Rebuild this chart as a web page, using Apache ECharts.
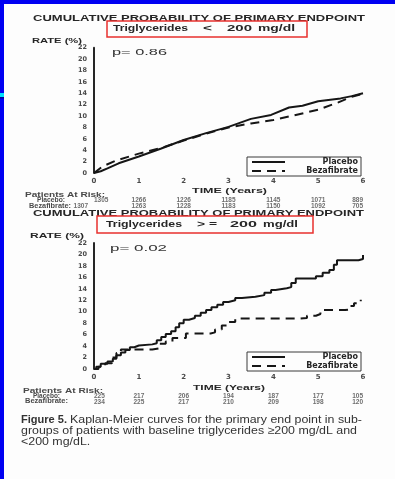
<!DOCTYPE html>
<html>
<head>
<meta charset="utf-8">
<script src="https://cdn.jsdelivr.net/npm/echarts@6/dist/echarts.min.js"></script>
<style>
html,body{margin:0;padding:0;background:#fff}
#c{width:395px;height:479px}
</style>
</head>
<body>
<div id="c"></div>
<script>
// Years of follow-up shown on the x axis and in the at-risk tables
const years = [0, 1, 2, 3, 4, 5, 6];
const rateTicks = [0, 2, 4, 6, 8, 10, 12, 14, 16, 18, 20, 22];

// Cumulative rate (%) by year, triglycerides < 200 mg/dl
const lowPlacebo = [[0,0],[0.15,0.3],[0.3,0.8],[0.55,1.7],[1,2.9],[1.5,4.3],[2,5.8],[2.5,7.0],[3,8.1],[3.5,9.5],[3.95,10.2],[4.35,11.5],[4.65,11.8],[5,12.6],[5.5,13.1],[5.75,13.5],[6,14.0]];
const lowBezafibrate = [[0,0],[0.2,1.2],[0.5,2.2],[1,3.4],[1.5,4.4],[2,5.7],[2.5,6.9],[3,8.0],[3.5,8.7],[4,9.3],[4.5,10.2],[5,11.1],[5.45,12.4],[5.75,13.4],[6,13.9]];

// Cumulative rate (%) by year, triglycerides >= 200 mg/dl
const highPlacebo = [[0,0],[0.05,0.4],[0.15,0.9],[0.3,1.3],[0.42,1.8],[0.5,2.4],[0.6,2.9],[0.7,3.3],[0.8,3.8],[0.9,4.1],[1.0,4.3],[1.3,4.5],[1.4,5.0],[1.5,5.6],[1.6,6.1],[1.72,6.6],[1.82,7.3],[1.9,8.0],[2.0,8.6],[2.12,8.9],[2.25,9.3],[2.38,9.8],[2.5,10.3],[2.62,10.8],[2.75,11.2],[2.88,11.7],[3.0,12.0],[3.15,12.4],[3.3,12.6],[3.6,12.9],[3.8,13.3],[3.95,13.8],[4.05,14.1],[4.3,14.3],[4.4,15.0],[4.5,15.8],[4.95,16.2],[5.1,16.8],[5.25,17.3],[5.35,18.2],[5.42,19.0],[5.9,19.2],[6,19.9]];
const highBezafibrate = [[0,0],[0.1,0.4],[0.25,1.0],[0.4,2.0],[0.5,2.8],[0.6,3.4],[1.3,3.6],[1.45,4.4],[1.6,4.8],[1.75,5.4],[2.05,6.2],[2.6,6.4],[2.7,6.9],[2.85,7.6],[3.0,8.2],[3.15,8.8],[4.55,8.9],[4.75,9.3],[4.95,9.6],[5.05,10.3],[5.6,10.4],[5.7,11.0],[5.8,11.5],[5.95,12.1]];

// Patients at risk at each year
const lowRiskPlacebo = [1305, 1266, 1226, 1185, 1145, 1071, 889];
const lowRiskBezafibrate = [1307, 1263, 1228, 1183, 1150, 1092, 705];
const highRiskPlacebo = [225, 217, 206, 194, 187, 177, 105];
const highRiskBezafibrate = [234, 225, 217, 210, 209, 198, 120];

const pValues = ['p= 0.86', 'p= 0.02'];
const groupLabels = ['Triglycerides', '<', '200', 'mg/dl'];
const groupLabelsHigh = ['Triglycerides', '> =', '200', 'mg/dl'];

const INK = '#262626';
const SOFT = '#4a4a4a';
const SANS = '"Liberation Sans", Arial, sans-serif';
const WIDE = '"DejaVu Sans", sans-serif';

const mctx = document.createElement('canvas').getContext('2d');
// Horizontal stretch so a string spans exactly [x0, x1]
function stretch(str, font, x0, x1) {
  mctx.font = font;
  return (x1 - x0) / mctx.measureText(str).width;
}
function label(str, font, x0, x1, y, fill, scale) {
  return {
    type: 'text', x: x0, y: y, scaleX: scale || stretch(str, font, x0, x1), z: 10,
    style: { text: str, font: font, fill: fill || INK, textAlign: 'left', align: 'left',
             textVerticalAlign: 'middle', verticalAlign: 'middle' }
  };
}

function plotAxes(gi) {
  return {
    x: {
      gridIndex: gi, type: 'value', min: 0, max: 6, interval: 1,
      axisLine: { show: false }, axisTick: { show: false }, splitLine: { show: false },
      axisLabel: { fontSize: 7, fontWeight: 'bold', fontFamily: WIDE, color: SOFT, margin: 5 }
    },
    y: {
      gridIndex: gi, type: 'value', min: 0, max: 22, interval: 2, offset: 3,
      axisLine: { show: true, lineStyle: { color: INK, width: 2 } },
      axisTick: { show: false }, splitLine: { show: false },
      axisLabel: { fontSize: 6.5, fontWeight: 'bold', fontFamily: WIDE, color: SOFT, margin: 4 }
    }
  };
}
function riskAxes(gi) {
  return {
    x: { gridIndex: gi, type: 'value', min: 0, max: 6, interval: 1, show: false },
    y: { gridIndex: gi, type: 'category', data: ['Bezafibrate', 'Placebo'], show: false }
  };
}
function riskSeries(gi, placebo, bezafibrate, bezShift) {
  const items = [];
  const push = (arr, row, shift) => arr.forEach((n, i) => {
    const align = i === 0 ? (shift ? 'right' : 'left') : (i === arr.length - 1 ? 'right' : 'center');
    items.push({
      value: [years[i], row, n],
      label: { align: align, offset: [i === 0 && shift ? shift : 0, 0] }
    });
  });
  push(placebo, 'Placebo', 0);
  push(bezafibrate, 'Bezafibrate', bezShift);
  return {
    type: 'scatter', xAxisIndex: gi, yAxisIndex: gi, symbolSize: 1,
    itemStyle: { color: 'rgba(0,0,0,0)' }, silent: true,
    label: {
      show: true, position: 'inside', fontSize: 6.5, fontWeight: 'bold', fontFamily: SANS,
      color: SOFT, verticalAlign: 'middle', formatter: p => String(p.value[2])
    },
    data: items
  };
}
function curve(name, gi, data, dashed, step) {
  return {
    type: 'line', name: name, xAxisIndex: gi, yAxisIndex: gi, data: data,
    symbol: 'none', step: step ? 'end' : false, silent: true,
    lineStyle: { color: '#161616', width: 2, type: dashed ? [9, 6] : 'solid' },
    itemStyle: { color: '#161616' }
  };
}
function legendAt(top) {
  return {
    orient: 'vertical', left: 247, top: top, itemWidth: 33, itemHeight: 6, itemGap: 1,
    padding: [1, 3, 1, 4], borderColor: '#3a3a3a', borderWidth: 1,
    data: ['Placebo', 'Bezafibrate'],
    itemStyle: { opacity: 0 },
    formatter: n => '{t|' + n + '}',
    textStyle: {
      rich: { t: { width: 68, align: 'right', fontSize: 8, fontWeight: 'bold', fontFamily: WIDE,
                   color: INK, lineHeight: 7 } }
    },
    selectedMode: false
  };
}

const a0 = plotAxes(0), a1 = plotAxes(1), r0 = riskAxes(2), r1 = riskAxes(3);

const CAPTION_FONT = '11px ' + SANS;
const captionLine2 = 'groups of patients with baseline triglycerides \u2265200 mg/dL and';
const captionScale = stretch(captionLine2, CAPTION_FONT, 21, 357);

const graphics = [
  // blue slide frame
  { type: 'rect', shape: { x: 0, y: 0, width: 395, height: 4 }, style: { fill: '#0000f2' } },
  { type: 'rect', shape: { x: 0, y: 0, width: 4, height: 479 }, style: { fill: '#0000f2' } },
  { type: 'rect', shape: { x: 0, y: 93, width: 4, height: 4 }, style: { fill: '#00e0ff' } },
  { type: 'rect', shape: { x: 0, y: 97, width: 4, height: 1.5 }, style: { fill: '#000090' } },

  // upper panel headings
  label('CUMULATIVE PROBABILITY OF PRIMARY ENDPOINT', 'bold 8.5px ' + SANS, 33, 365, 18.5),
  label(groupLabels[0], 'bold 9.5px ' + SANS, 113, 188, 28.5),
  label(groupLabels[1], 'bold 9.5px ' + SANS, 203, 212, 28.5),
  label(groupLabels[2], 'bold 9.5px ' + SANS, 227, 252, 28.5),
  label(groupLabels[3], 'bold 9.5px ' + SANS, 258, 295, 28.5),
  { type: 'rect', z: 11, shape: { x: 107, y: 21, width: 200, height: 16 },
    style: { fill: 'none', stroke: '#e8302e', lineWidth: 1.5 } },
  label('RATE (%)', 'bold 7.5px ' + SANS, 32, 82, 40.5),
  label(pValues[0], '9px ' + SANS, 112, 167, 53, '#333'),
  label('TIME (Years)', 'bold 7.5px ' + SANS, 192, 267, 190.5),
  label('Patients At Risk:', 'bold 7px ' + SANS, 25, 105, 195.5, SOFT),
  label('Placebo:', 'bold 6.5px ' + SANS, 37, 65, 200, SOFT),
  label('Bezafibrate:', 'bold 6.5px ' + SANS, 29, 71, 206, SOFT),

  // lower panel headings
  label('CUMULATIVE PROBABILITY OF PRIMARY ENDPOINT', 'bold 8.5px ' + SANS, 33, 364, 213.5),
  label(groupLabelsHigh[0], 'bold 9.5px ' + SANS, 106, 182, 224.5),
  label(groupLabelsHigh[1], 'bold 9.5px ' + SANS, 197, 217, 224.5),
  label(groupLabelsHigh[2], 'bold 9.5px ' + SANS, 230, 257, 224.5),
  label(groupLabelsHigh[3], 'bold 9.5px ' + SANS, 263, 298, 224.5),
  { type: 'rect', z: 11, shape: { x: 97, y: 216, width: 216, height: 17 },
    style: { fill: 'none', stroke: '#e8302e', lineWidth: 1.5 } },
  label('RATE (%)', 'bold 7.5px ' + SANS, 30, 84, 235.5),
  label(pValues[1], '9px ' + SANS, 110, 167, 249, '#333'),
  label('TIME (Years)', 'bold 7.5px ' + SANS, 193, 265, 387.5),
  label('Patients At Risk:', 'bold 7px ' + SANS, 23, 103, 391.5, SOFT),
  label('Placebo:', 'bold 6.5px ' + SANS, 33, 60, 396.5, SOFT),
  label('Bezafibrate:', 'bold 6.5px ' + SANS, 25, 68, 401.5, SOFT),

  // figure caption
  label('Figure 5.', 'bold ' + CAPTION_FONT, 21, 67, 420, '#333'),
  label('Kaplan-Meier curves for the primary end point in sub-', CAPTION_FONT, 70, 362, 420, '#333'),
  label(captionLine2, CAPTION_FONT, 21, 357, 431, '#333', captionScale),
  label('<200 mg/dL.', CAPTION_FONT, 21, 0, 442, '#333', captionScale)
];

const chart = echarts.init(document.getElementById('c'), null, { renderer: 'canvas' });
chart.setOption({
  animation: false,
  backgroundColor: '#fdfdfd',
  grid: [
    { left: 94, right: 32, top: 47.7, height: 125.3 },
    { left: 94, right: 32, top: 243, height: 126 },
    { left: 94, right: 32, top: 197, height: 12 },
    { left: 94, right: 32, top: 393.5, height: 11 }
  ],
  xAxis: [a0.x, a1.x, r0.x, r1.x],
  yAxis: [a0.y, a1.y, r0.y, r1.y],
  legend: [legendAt(157), legendAt(352)],
  series: [
    curve('Placebo', 0, lowPlacebo, false, false),
    curve('Bezafibrate', 0, lowBezafibrate, true, false),
    curve('Placebo', 1, highPlacebo, false, true),
    curve('Bezafibrate', 1, highBezafibrate, true, true),
    riskSeries(2, lowRiskPlacebo, lowRiskBezafibrate, -6),
    riskSeries(3, highRiskPlacebo, highRiskBezafibrate, 0)
  ],
  graphic: graphics
});
</script>
</body>
</html>
